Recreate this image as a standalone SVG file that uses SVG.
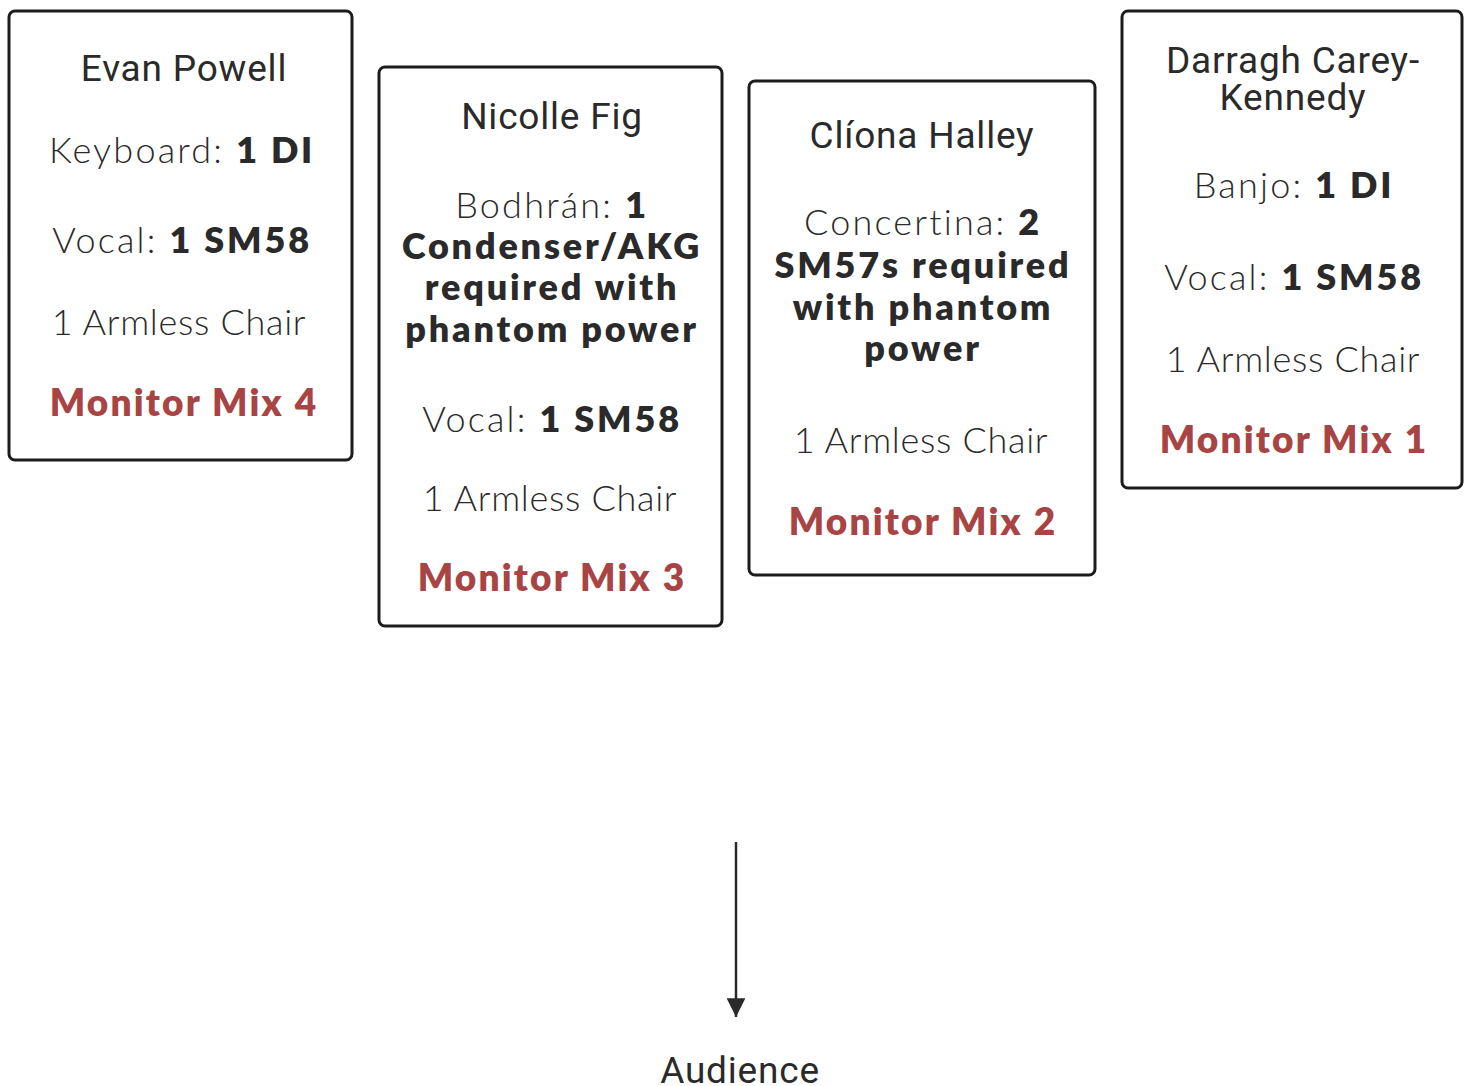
<svg xmlns="http://www.w3.org/2000/svg" width="1470" height="1086" viewBox="0 0 1470 1086">
<defs>
<style>
.box{fill:#fff;stroke:#1c1c1c;stroke-width:3}
.name{font-family:Roboto,"Liberation Sans",sans-serif;font-size:37px;letter-spacing:0.8px;fill:#2a2a2a;text-anchor:middle}
.t{font-family:Lato,"Liberation Sans",sans-serif;font-size:36px;font-weight:300;letter-spacing:2.2px;fill:#2a2a2a;text-anchor:middle}
.ch{letter-spacing:0.7px}
.b{font-weight:800;letter-spacing:2.8px}
.mix{font-family:Lato,"Liberation Sans",sans-serif;font-size:37px;font-weight:800;letter-spacing:2.2px;fill:#a84444;text-anchor:middle}
.conn{stroke:#2a2a2a;stroke-width:2.5;fill:none}
</style>
<marker id="arr" viewBox="0 0 10 10" refX="10" refY="5" markerWidth="8" markerHeight="7.5" markerUnits="strokeWidth" orient="auto">
<path d="M0,0 L10,5 L0,10 z" fill="#2a2a2a"/>
</marker>
</defs>
<rect width="1470" height="1086" fill="#fff"/>
<g id="evan">
<rect class="box" x="9" y="11" width="343" height="449" rx="6"/>
<text class="name" x="184" y="81">Evan Powell</text>
<text class="t" x="182" y="163">Keyboard: <tspan class="b">1 DI</tspan></text>
<text class="t" x="182" y="253">Vocal: <tspan class="b">1 SM58</tspan></text>
<text class="t ch" x="179" y="335">1 Armless Chair</text>
<text class="mix" x="184" y="416">Monitor Mix 4</text>
</g>
<g id="nicolle">
<rect class="box" x="379" y="67" width="343" height="559" rx="6"/>
<text class="name" x="552" y="129">Nicolle Fig</text>
<text class="t" x="552" y="218">Bodhrán: <tspan class="b">1</tspan></text>
<text class="t b" x="552" y="259">Condenser/AKG</text>
<text class="t b" x="552" y="300">required with</text>
<text class="t b" x="552" y="342">phantom power</text>
<text class="t" x="552" y="432">Vocal: <tspan class="b">1 SM58</tspan></text>
<text class="t ch" x="550" y="511">1 Armless Chair</text>
<text class="mix" x="552" y="591">Monitor Mix 3</text>
</g>
<g id="cliona">
<rect class="box" x="749" y="81" width="346" height="494" rx="6"/>
<text class="name" x="922" y="148">Clíona Halley</text>
<text class="t" x="923" y="235">Concertina: <tspan class="b">2</tspan></text>
<text class="t b" x="923" y="278">SM57s required</text>
<text class="t b" x="923" y="320">with phantom</text>
<text class="t b" x="923" y="361">power</text>
<text class="t ch" x="921" y="453">1 Armless Chair</text>
<text class="mix" x="923" y="535">Monitor Mix 2</text>
</g>
<g id="darragh">
<rect class="box" x="1122" y="11" width="340" height="477" rx="6"/>
<text class="name" x="1293" y="73">Darragh Carey-</text>
<text class="name" x="1293" y="110">Kennedy</text>
<text class="t" x="1294" y="198">Banjo: <tspan class="b">1 DI</tspan></text>
<text class="t" x="1294" y="290">Vocal: <tspan class="b">1 SM58</tspan></text>
<text class="t ch" x="1293" y="372">1 Armless Chair</text>
<text class="mix" x="1294" y="453">Monitor Mix 1</text>
</g>
<g id="audience">
<text class="name" x="740" y="1083">Audience</text>
</g>
<g id="connectors">
<line class="conn" x1="736" y1="842" x2="736" y2="1017" marker-end="url(#arr)"/>
</g>
</svg>
